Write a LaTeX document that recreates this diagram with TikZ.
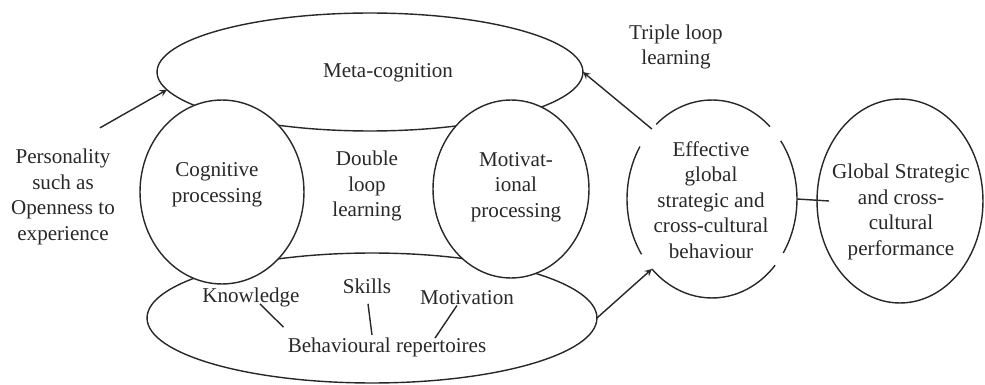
\documentclass[tikz,border=0pt]{standalone}
\usepackage{fontspec}
\setmainfont{Liberation Serif}
\usetikzlibrary{shapes.geometric,calc}
\definecolor{inkGray}{RGB}{40,40,40}

\begin{document}
\begin{tikzpicture}[x=0.02cm, y=-0.02cm]
            \tikzstyle{loopbox} = [ellipse, draw=inkGray, thick, inner sep=0pt, outer sep=0pt]
            \tikzstyle{procbox} = [ellipse, draw=inkGray, fill=white, thick, inner sep=0pt, outer sep=0pt]
            \tikzstyle{openbox} = [ellipse, inner sep=0pt, outer sep=0pt]
            \tikzstyle{txt} = [align=center, inner sep=0pt, text=inkGray, font=\fontsize{12}{14.5}\selectfont]
            \tikzstyle{link} = [draw=inkGray, thick]

            \useasboundingbox (0, 0) rectangle (985, 385);

            \node[loopbox, minimum width=8.52cm, minimum height=2.36cm] (meta) at (370, 72) {};
            \node[loopbox, minimum width=9cm, minimum height=2.6cm] (rep) at (372, 318) {};
            \node[procbox, minimum width=3.28cm, minimum height=3.68cm] (cog) at (222, 192) {};
            \node[procbox, minimum width=3.12cm, minimum height=3.56cm] (motiv) at (511, 189) {};
            \node[openbox, minimum width=3.4cm, minimum height=3.96cm] (eff) at (712, 199) {};
            \node[procbox, minimum width=3.32cm, minimum height=4.08cm] (glob) at (900, 201) {};

            \draw[link] ([shift={(47:1.7cm and 1.98cm)}]eff.center) arc[start angle=47, end angle=131, x radius=1.7cm, y radius=1.98cm];
            \draw[link] ([shift={(148:1.7cm and 1.98cm)}]eff.center) arc[start angle=148, end angle=214, x radius=1.7cm, y radius=1.98cm];
            \draw[link] ([shift={(225:1.7cm and 1.98cm)}]eff.center) arc[start angle=225, end angle=318, x radius=1.7cm, y radius=1.98cm];
            \draw[link] ([shift={(327:1.7cm and 1.98cm)}]eff.center) arc[start angle=327, end angle=396, x radius=1.7cm, y radius=1.98cm];

            \node[txt] (metatxt) at (388, 73) {Meta-cognition};
            \node[txt] (triple) at (676, 47) {Triple loop\\learning};
            \node[txt] (pers) at (63, 197) {Personality\\such as\\Openness to\\experience};
            \node[txt] (cogtxt) at (217, 185) {Cognitive\\processing};
            \node[txt] (double) at (367, 186) {Double\\loop\\learning};
            \node[txt] (motivtxt) at (516, 187) {Motivat-\\ional\\processing};
            \node[txt] (efftxt) at (711, 200) {Effective\\global\\strategic and\\cross-cultural\\behaviour};
            \node[txt] (globtxt) at (901, 212) {Global Strategic\\and cross-\\cultural\\performance};
            \node[txt] (know) at (251, 297) {Knowledge};
            \node[txt] (skills) at (367, 286) {Skills};
            \node[txt] (motivation) at (467, 298) {Motivation};
            \node[txt] (reptxt) at (387, 347) {Behavioural repertoires};

            \draw[link, ->, >=stealth, shorten <=0.85cm] (pers.north) -- (meta.185);
            \draw[link, ->, >=stealth] (eff.north west) -- (meta.east);
            \draw[link, ->, >=stealth] (rep.east) -- (eff.south west);
            \draw[link] (eff.east) -- ($(glob.west)+(12, 0)$);
            \draw[link] ($(know.south)+(9, -3)$) -- ($(reptxt.north west)+(-4, -10)$);
            \draw[link] ($(skills.south)+(1, 10)$) -- ($(reptxt.north)+(-15, -2)$);
            \draw[link] ($(motivation.south)+(-10, 0)$) -- ($(reptxt.north)+(48, 1)$);
        \end{tikzpicture}
\end{document}
